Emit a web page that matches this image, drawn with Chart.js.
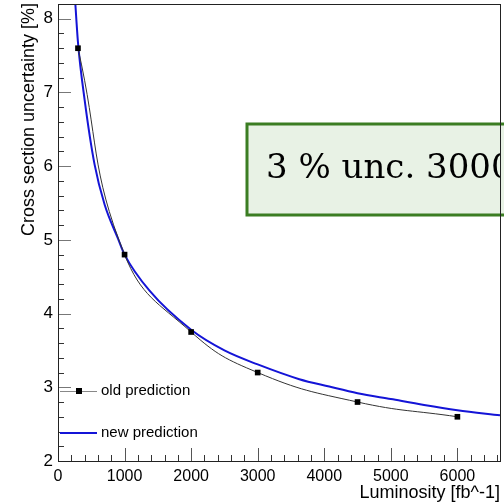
<!DOCTYPE html>
<html>
<head>
<meta charset="utf-8">
<title>Cross section uncertainty</title>
<script src="https://cdn.jsdelivr.net/npm/chart.js"></script>
<style>
  body { margin: 0; background: #fff; }
  canvas { display: block; }
</style>
</head>
<body>
<canvas id="chart" width="504" height="503"></canvas>
<script>
var lumiOld = [300, 1000, 2000, 3000, 4500, 6000];
var uncOld = [7.6, 4.8, 3.75, 3.2, 2.8, 2.6];

var lumiNew = [250, 300, 400, 550, 700, 900, 1000, 1375, 2000, 2500, 3000, 3625, 4075, 4500, 5000, 5500, 6000, 6640];
var uncNew = [8.35, 7.68, 6.9, 6.02, 5.48, 5.02, 4.8, 4.31, 3.78, 3.5, 3.31, 3.11, 3.01, 2.92, 2.84, 2.76, 2.69, 2.62];

var xMajor = [0, 1000, 2000, 3000, 4000, 5000, 6000];
var yMajor = [2, 3, 4, 5, 6, 7, 8];

var legendLabels = ['old prediction', 'new prediction'];
var boxText = '3 % unc. 3000';
var xTitle = 'Luminosity [fb^-1]';
var yTitle = 'Cross section uncertainty [%]';

function toPoints(xs, ys) {
  var pts = [];
  for (var i = 0; i < xs.length; i++) {
    pts.push({x: xs[i], y: ys[i]});
  }
  return pts;
}

function isMajor(list, v) {
  for (var i = 0; i < list.length; i++) {
    if (Math.abs(list[i] - v) < 1e-6) return true;
  }
  return false;
}

function isStep(v, step) {
  var r = v / step;
  return Math.abs(r - Math.round(r)) < 1e-6;
}

var rootStyle = {
  id: 'rootStyle',
  beforeDatasetsDraw: function(chart) {
    var ctx = chart.ctx;
    var area = chart.chartArea;
    ctx.save();
    // text box
    ctx.fillStyle = '#e8f2e5';
    ctx.strokeStyle = '#3b7d22';
    ctx.lineWidth = 3;
    ctx.fillRect(247, 124, 270, 91);
    ctx.strokeRect(247, 124, 270, 91);
    ctx.beginPath();
    ctx.rect(area.left, 0, area.right - area.left, chart.height);
    ctx.clip();
    ctx.fillStyle = '#000';
    ctx.font = '34px "DejaVu Serif"';
    ctx.textBaseline = 'alphabetic';
    ctx.fillText(boxText, 266, 178);
    ctx.restore();
  },
  afterDraw: function(chart) {
    var ctx = chart.ctx;
    var area = chart.chartArea;
    var xs = chart.scales.x;
    var ys = chart.scales.y;
    ctx.save();

    // ticks inside the frame
    ctx.lineWidth = 1;
    xs.ticks.forEach(function(t) {
      if (!isStep(t.value, 200)) return;
      var px = Math.round(xs.getPixelForValue(t.value)) + 0.5;
      var major = isMajor(xMajor, t.value);
      ctx.strokeStyle = major ? '#555' : '#333';
      ctx.beginPath();
      ctx.moveTo(px, area.bottom);
      ctx.lineTo(px, area.bottom - (major ? 13 : 6));
      ctx.stroke();
    });
    ys.ticks.forEach(function(t) {
      var py = Math.round(ys.getPixelForValue(t.value)) + 0.5;
      var major = isMajor(yMajor, t.value);
      ctx.strokeStyle = major ? '#777' : '#333';
      ctx.beginPath();
      ctx.moveTo(area.left, py);
      ctx.lineTo(area.left + (major ? 13 : 6), py);
      ctx.stroke();
    });

    // frame
    ctx.strokeStyle = '#222';
    ctx.strokeRect(Math.round(area.left) + 0.5, Math.round(area.top) + 0.5,
      Math.round(area.right - area.left), Math.round(area.bottom - area.top));

    // legend
    var ds = chart.data.datasets;
    ctx.lineWidth = 1;
    ctx.strokeStyle = '#888';
    ctx.beginPath();
    ctx.moveTo(60, 391.5);
    ctx.lineTo(97, 391.5);
    ctx.stroke();
    ctx.fillStyle = ds[0].pointBackgroundColor;
    ctx.fillRect(76, 388, 6, 6);
    ctx.strokeStyle = ds[1].borderColor;
    ctx.lineWidth = 2;
    ctx.beginPath();
    ctx.moveTo(60, 433);
    ctx.lineTo(97, 433);
    ctx.stroke();
    ctx.fillStyle = '#000';
    ctx.font = '15px "Liberation Sans", Arial, sans-serif';
    ctx.textBaseline = 'middle';
    ctx.textAlign = 'left';
    ctx.fillText(legendLabels[0], 101, 391);
    ctx.fillText(legendLabels[1], 101, 433);

    // axis titles
    ctx.font = '18px "Liberation Sans", Arial, sans-serif';
    ctx.textAlign = 'right';
    ctx.textBaseline = 'alphabetic';
    ctx.fillText(xTitle, area.right, 498);
    ctx.translate(34, 3);
    ctx.rotate(-Math.PI / 2);
    ctx.fillText(yTitle, 0, 0);
    ctx.restore();
  }
};

var ctx = document.getElementById('chart').getContext('2d');
var chart = new Chart(ctx, {
  type: 'line',
  data: {
    datasets: [{
      label: legendLabels[0],
      data: toPoints(lumiOld, uncOld),
      borderColor: '#333',
      borderWidth: 1,
      tension: 0.45,
      pointStyle: 'rect',
      pointRadius: 4,
      pointBackgroundColor: '#000',
      pointBorderWidth: 0,
      clip: 0
    }, {
      label: legendLabels[1],
      data: toPoints(lumiNew, uncNew),
      borderColor: 'rgb(20, 20, 215)',
      borderWidth: 2,
      cubicInterpolationMode: 'monotone',
      pointRadius: 0,
      clip: 0
    }]
  },
  options: {
    responsive: false,
    animation: false,
    events: [],
    layout: { padding: { top: 4, right: 3, left: 0, bottom: 0 } },
    plugins: {
      legend: { display: false },
      tooltip: { enabled: false }
    },
    scales: {
      x: {
        type: 'linear',
        min: 0,
        max: 6640,
        grid: { display: false, drawTicks: false },
        border: { display: false },
        afterFit: function(scale) {
          scale.height = 42;
          scale.paddingLeft = 0;
          scale.paddingRight = 0;
        },
        ticks: {
          stepSize: 40,
          includeBounds: false,
          autoSkip: false,
          maxRotation: 0,
          padding: 6,
          color: '#000',
          font: { family: '"Liberation Sans", Arial, sans-serif', size: 16 },
          callback: function(v) { return isMajor(xMajor, v) ? String(Math.round(v)) : ''; }
        }
      },
      y: {
        type: 'linear',
        min: 2,
        max: 8.2,
        grid: { display: false, drawTicks: false },
        border: { display: false },
        afterFit: function(scale) {
          scale.width = 58;
          scale.paddingTop = 0;
          scale.paddingBottom = 0;
        },
        ticks: {
          stepSize: 0.2,
          includeBounds: false,
          autoSkip: false,
          padding: 5,
          color: '#000',
          font: { family: '"Liberation Sans", Arial, sans-serif', size: 17 },
          callback: function(v) { return isMajor(yMajor, v) ? String(Math.round(v)) : ''; }
        }
      }
    }
  },
  plugins: [rootStyle]
});
</script>
</body>
</html>
